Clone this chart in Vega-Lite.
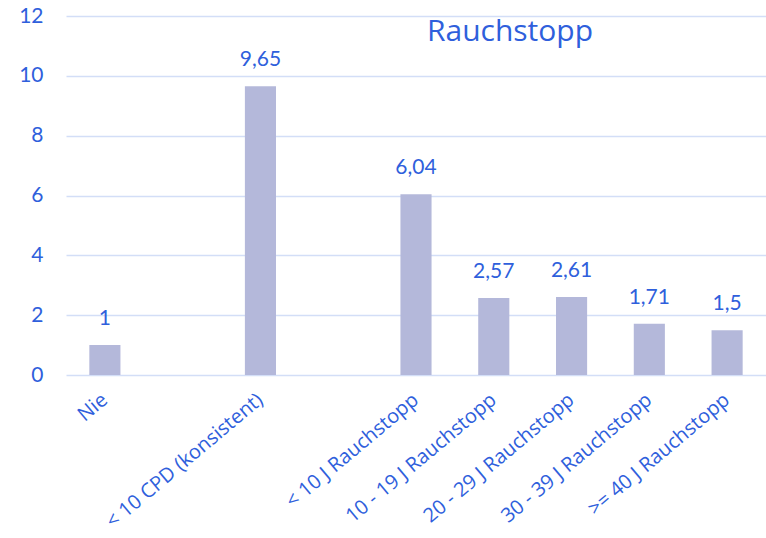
{
  "$schema": "https://vega.github.io/schema/vega-lite/v6.json",
  "width": 700,
  "height": 359,
  "autosize": {"type": "none"},
  "padding": {"left": 66, "top": 16, "right": 0, "bottom": 163},
  "background": "white",
  "title": {
    "text": "Rauchstopp",
    "orient": "top",
    "anchor": "middle",
    "dx": 94,
    "dy": 42,
    "offset": 0,
    "font": "Open Sans",
    "fontSize": 30,
    "fontWeight": "normal",
    "color": "#2f5fdc"
  },
  "data": {
    "values": [
      {"kategorie": "Nie", "wert": 1, "label": "1"},
      {"kategorie": "< 10 CPD (konsistent)", "wert": 9.65, "label": "9,65"},
      {"kategorie": "< 10 J Rauchstopp", "wert": 6.04, "label": "6,04"},
      {"kategorie": "10 - 19 J Rauchstopp", "wert": 2.57, "label": "2,57"},
      {"kategorie": "20 - 29 J Rauchstopp", "wert": 2.61, "label": "2,61"},
      {"kategorie": "30 - 39 J Rauchstopp", "wert": 1.71, "label": "1,71"},
      {"kategorie": ">= 40 J Rauchstopp", "wert": 1.5, "label": "1,5"}
    ]
  },
  "encoding": {
    "x": {
      "field": "kategorie",
      "type": "nominal",
      "sort": null,
      "scale": {
        "domain": ["Nie", "gap1", "< 10 CPD (konsistent)", "gap2", "< 10 J Rauchstopp", "10 - 19 J Rauchstopp", "20 - 29 J Rauchstopp", "30 - 39 J Rauchstopp", ">= 40 J Rauchstopp"],
        "paddingInner": 0.6,
        "paddingOuter": 0.3
      },
      "axis": {
        "title": null,
        "labelAngle": -40,
        "labelAlign": "right",
        "labelBaseline": "middle",
        "labelExpr": "indexof(datum.label, 'gap') == 0 ? '' : datum.label",
        "labelFont": "Open Sans",
        "labelFontSize": 20,
        "labelColor": "#2f5fdc",
        "labelPadding": 22,
        "labelOverlap": false,
        "labelLimit": 400,
        "domain": false,
        "ticks": false,
        "grid": false
      }
    },
    "y": {
      "field": "wert",
      "type": "quantitative",
      "scale": {"domain": [0, 12]},
      "axis": {
        "title": null,
        "values": [0, 2, 4, 6, 8, 10, 12],
        "labelFont": "Lato",
        "labelFontSize": 21,
        "labelColor": "#2f5fdc",
        "labelPadding": 23,
        "domain": false,
        "ticks": false,
        "grid": true,
        "gridColor": "#d3def7",
        "gridWidth": 1.5
      }
    }
  },
  "layer": [
    {"mark": {"type": "bar", "color": "#b4b8da"}},
    {
      "mark": {
        "type": "text",
        "baseline": "alphabetic",
        "dy": -20,
        "font": "Lato",
        "fontSize": 21,
        "color": "#2f5fdc"
      },
      "encoding": {"text": {"field": "label"}}
    }
  ],
  "config": {"view": {"stroke": null}}
}
